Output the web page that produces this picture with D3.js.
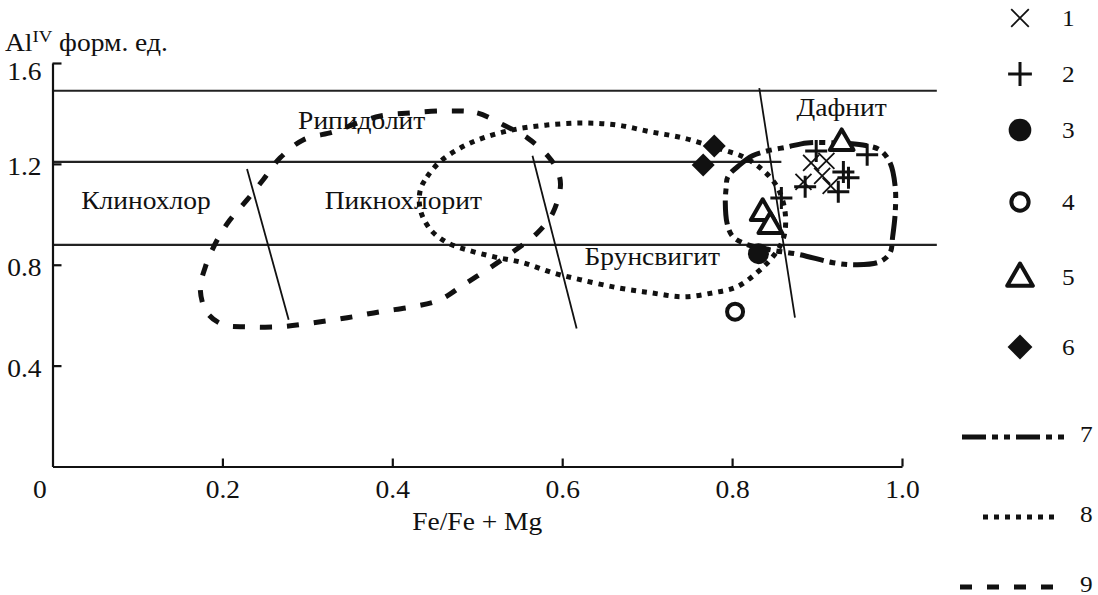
<!DOCTYPE html>
<html><head><meta charset="utf-8">
<script src="https://cdn.jsdelivr.net/npm/d3@7"></script>
<style>
body{margin:0;background:#fff;}
svg{display:block;font-family:"Liberation Serif","Times New Roman",serif;}
</style></head><body>
<svg id="chart" width="1098" height="595"></svg>
<script>
// ---------- data ----------
const xTickValues = [0, 0.2, 0.4, 0.6, 0.8, 1.0];
const xTickLabels = ["0", "0.2", "0.4", "0.6", "0.8", "1.0"];
const yTickValues = [0.4, 0.8, 1.2, 1.6];
const yTickLabels = ["0.4", "0.8", "1.2", "1.6"];
const xTitle = "Fe/Fe + Mg";
const yTitleMain = "Al", yTitleSup = "IV", yTitleRest = " форм. ед.";

// field boundaries (horizontal): Al value and right end
const hLineY = [1.49, 1.208, 0.879];
const hLineXEnd = [1.041, 0.858, 1.041];
// field boundaries (slanted)
const slantX1 = [0.229, 0.565, 0.832];
const slantY1 = [1.180, 1.232, 1.500];
const slantX2 = [0.278, 0.617, 0.874];
const slantY2 = [0.582, 0.547, 0.590];

// field names
const fieldNames = ["Клинохлор", "Рипидолит", "Пикнохлорит", "Брунсвигит", "Дафнит"];
const fieldX = [0.110, 0.364, 0.413, 0.706, 0.929];
const fieldY = [1.02, 1.34, 1.02, 0.80, 1.388];

// series 1..6 (points)
const s1X = [0.893, 0.911, 0.884, 0.906, 0.916];
const s1Y = [1.204, 1.212, 1.129, 1.152, 1.113];
const s2X = [0.899, 0.959, 0.931, 0.937, 0.886, 0.925, 0.858];
const s2Y = [1.251, 1.236, 1.168, 1.145, 1.109, 1.089, 1.065];
const s3X = [0.831];
const s3Y = [0.844];
const s4X = [0.8035];
const s4Y = [0.614];
const s5X = [0.836, 0.845, 0.929];
const s5Y = [1.010, 0.958, 1.287];
const s6X = [0.779, 0.766];
const s6Y = [1.271, 1.196];

// series 7..9 (outlines)
const s7X = [0.795,0.809,0.824,0.841,0.865,0.888,0.924,0.954,0.974,0.986,0.992,0.992,0.989,0.986,0.974,0.947,0.919,0.880,0.845,0.815,0.800,0.794,0.792,0.793];
const s7Y = [1.149,1.196,1.232,1.251,1.267,1.283,1.283,1.275,1.255,1.204,1.109,1.006,0.911,0.848,0.812,0.800,0.808,0.840,0.859,0.883,0.915,0.966,1.046,1.105];
const s8X = [0.433,0.441,0.456,0.480,0.507,0.542,0.582,0.625,0.665,0.704,0.742,0.782,0.813,0.836,0.853,0.862,0.862,0.856,0.845,0.829,0.806,0.778,0.742,0.704,0.665,0.621,0.589,0.554,0.519,0.488,0.465,0.445,0.433];
const s8Y = [1.097,1.149,1.208,1.263,1.303,1.335,1.354,1.362,1.354,1.327,1.303,1.263,1.228,1.176,1.109,1.018,0.927,0.871,0.820,0.768,0.713,0.689,0.673,0.689,0.709,0.741,0.768,0.808,0.832,0.859,0.887,0.939,1.018];
const s9X = [0.465,0.500,0.531,0.559,0.584,0.594,0.598,0.589,0.571,0.542,0.515,0.484,0.456,0.425,0.386,0.347,0.307,0.268,0.229,0.201,0.182,0.174,0.180,0.194,0.209,0.229,0.248,0.268,0.295,0.331,0.359,0.386,0.421];
const s9Y = [1.410,1.402,1.354,1.303,1.228,1.176,1.117,1.006,0.927,0.851,0.788,0.721,0.661,0.634,0.614,0.590,0.570,0.554,0.554,0.562,0.610,0.701,0.792,0.899,0.978,1.057,1.137,1.224,1.295,1.327,1.362,1.390,1.402];

const legendLabels = ["1", "2", "3", "4", "5", "6", "7", "8", "9"];

// ---------- drawing ----------
const svg = d3.select("#chart");
const x = d3.scaleLinear().domain([0, 1]).range([52.5, 902]);
const y = d3.scaleLinear().domain([0, 1.6]).range([466.5, 63]);
const INK = "#111";
const FS = 25, SX = 1.1;

// field name texts (under the outlines)
fieldNames.forEach((t, i) => {
  svg.append("text")
    .attr("transform", `translate(${x(fieldX[i])},${y(fieldY[i])}) scale(${SX},1)`)
    .attr("text-anchor", "middle").attr("font-size", FS).attr("fill", INK).text(t);
});

// horizontal boundaries
hLineY.forEach((v, i) => {
  svg.append("line").attr("x1", x(0)).attr("x2", x(hLineXEnd[i]))
    .attr("y1", y(v)).attr("y2", y(v)).attr("stroke", "#222").attr("stroke-width", 2.2);
});
// slanted boundaries
slantX1.forEach((v, i) => {
  svg.append("line").attr("x1", x(v)).attr("y1", y(slantY1[i]))
    .attr("x2", x(slantX2[i])).attr("y2", y(slantY2[i]))
    .attr("stroke", "#111").attr("stroke-width", 1.8);
});

// outlines
const dash7 = "24,6,6,6,6,6", dash8 = "5,6", dash9 = "12,15";
const lineGen = d3.line().x(d => x(d[0])).y(d => y(d[1])).curve(d3.curveCatmullRomClosed.alpha(0.5));
[[s9X, s9Y, dash9], [s8X, s8Y, dash8], [s7X, s7Y, dash7]].forEach(([xs, ys, da]) => {
  svg.append("path").datum(xs.map((v, i) => [v, ys[i]]))
    .attr("d", lineGen).attr("fill", "none").attr("stroke", INK)
    .attr("stroke-width", 5).attr("stroke-dasharray", da);
});

// axes
const xAxis = svg.append("g").attr("transform", `translate(0,${y(0)})`)
  .call(d3.axisBottom(x).tickValues(xTickValues).tickFormat((d, i) => xTickLabels[i])
    .tickSizeInner(-8).tickSizeOuter(0).tickPadding(14));
const yAxis = svg.append("g").attr("transform", `translate(${x(0)},0)`)
  .call(d3.axisLeft(y).tickValues(yTickValues).tickFormat((d, i) => yTickLabels[i])
    .tickSizeInner(-9).tickSizeOuter(0).tickPadding(10));
[xAxis, yAxis].forEach(g => {
  g.attr("font-family", null).attr("font-size", null);
  g.select(".domain").attr("stroke", INK).attr("stroke-width", 2.2);
  g.selectAll(".tick line").attr("stroke", INK).attr("stroke-width", 2.2);
  g.selectAll(".tick text").attr("font-size", FS).attr("fill", INK);
});
xAxis.selectAll(".tick text").attr("transform", `scale(${SX},1)`);
yAxis.selectAll(".tick text")
  .attr("transform", d => `translate(0,${d === 1.6 ? 8 : 2}) scale(${SX},1)`)
  .attr("dy", "0.35em");
xAxis.selectAll(".tick").filter(d => d === 0).each(function () {
  d3.select(this).select("line").remove();
  d3.select(this).select("text").attr("x", -12);
});

// axis titles
svg.append("text").attr("transform", `translate(${(x(0) + x(1)) / 2},${y(0) + 63}) scale(${SX},1)`)
  .attr("text-anchor", "middle").attr("font-size", FS).attr("fill", INK).text(xTitle);
const yt = svg.append("text").attr("transform", `translate(5,51) scale(${SX},1)`)
  .attr("font-size", FS).attr("fill", INK);
yt.append("tspan").text(yTitleMain);
yt.append("tspan").attr("font-size", 17).attr("dy", -9).text(yTitleSup);
yt.append("tspan").attr("dy", 9).text(yTitleRest);

// marker shapes
function shapePath(shape, s) {
  const p = d3.path();
  if (shape === "times") { p.moveTo(-s, -s); p.lineTo(s, s); p.moveTo(-s, s); p.lineTo(s, -s); }
  else if (shape === "plus") { p.moveTo(-s, 0); p.lineTo(s, 0); p.moveTo(0, -s); p.lineTo(0, s); }
  else if (shape === "triangle") { p.moveTo(0, -s); p.lineTo(s * 0.95, s * 0.65); p.lineTo(-s * 0.95, s * 0.65); p.closePath(); }
  else if (shape === "diamond") { p.moveTo(0, -s); p.lineTo(s, 0); p.lineTo(0, s); p.lineTo(-s, 0); p.closePath(); }
  return p.toString();
}
function drawMarker(g, shape, cx, cy, scale) {
  const k = scale || 1;
  if (shape === "dot") return g.append("circle").attr("cx", cx).attr("cy", cy).attr("r", 10.5 * k).attr("fill", INK);
  if (shape === "ring") return g.append("circle").attr("cx", cx).attr("cy", cy).attr("r", 8 * k).attr("fill", "#fff").attr("stroke", INK).attr("stroke-width", 4);
  const sizes = { times: 8, plus: 11, triangle: 12.5, diamond: 11.5 };
  const el = g.append("path").attr("transform", `translate(${cx},${cy})`).attr("d", shapePath(shape, sizes[shape] * k));
  if (shape === "times") el.attr("fill", "none").attr("stroke", INK).attr("stroke-width", 1.8);
  if (shape === "plus") el.attr("fill", "none").attr("stroke", INK).attr("stroke-width", 3);
  if (shape === "triangle") el.attr("fill", "#fff").attr("stroke", INK).attr("stroke-width", 4).attr("stroke-linejoin", "round");
  if (shape === "diamond") el.attr("fill", INK);
  return el;
}
const pointSeries = [
  ["triangle", s5X, s5Y], ["diamond", s6X, s6Y], ["dot", s3X, s3Y], ["ring", s4X, s4Y],
  ["plus", s2X, s2Y], ["times", s1X, s1Y]
];
const mg = svg.append("g");
pointSeries.forEach(([shape, xs, ys]) => xs.forEach((v, i) => drawMarker(mg, shape, x(v), y(ys[i]))));

// legend
const legShapes = ["times", "plus", "dot", "ring", "triangle", "diamond"];
const legY = [18, 74, 130, 202, 277, 347];
const lg = svg.append("g");
legShapes.forEach((s, i) => {
  drawMarker(lg, s, 1020, legY[i], s === "times" ? 1.1 : 1.08);
  lg.append("text").attr("transform", `translate(1062,${legY[i]}) scale(${SX},1)`)
    .attr("dy", "0.35em").attr("font-size", FS - 2).attr("fill", INK).text(legendLabels[i]);
});
const legLineY = [437, 517, 587];
const legLineX1 = [962, 983, 960], legLineX2 = [1067, 1058, 1062];
const legDash = [dash7, dash8, dash9];
legLineY.forEach((yy, i) => {
  lg.append("line").attr("x1", legLineX1[i]).attr("x2", legLineX2[i]).attr("y1", yy).attr("y2", yy)
    .attr("stroke", INK).attr("stroke-width", 5).attr("stroke-dasharray", legDash[i]);
  lg.append("text").attr("transform", `translate(1080,${yy}) scale(${SX},1)`)
    .attr("dy", "0.2em").attr("font-size", FS - 2).attr("fill", INK).text(legendLabels[6 + i]);
});
</script>
</body></html>
